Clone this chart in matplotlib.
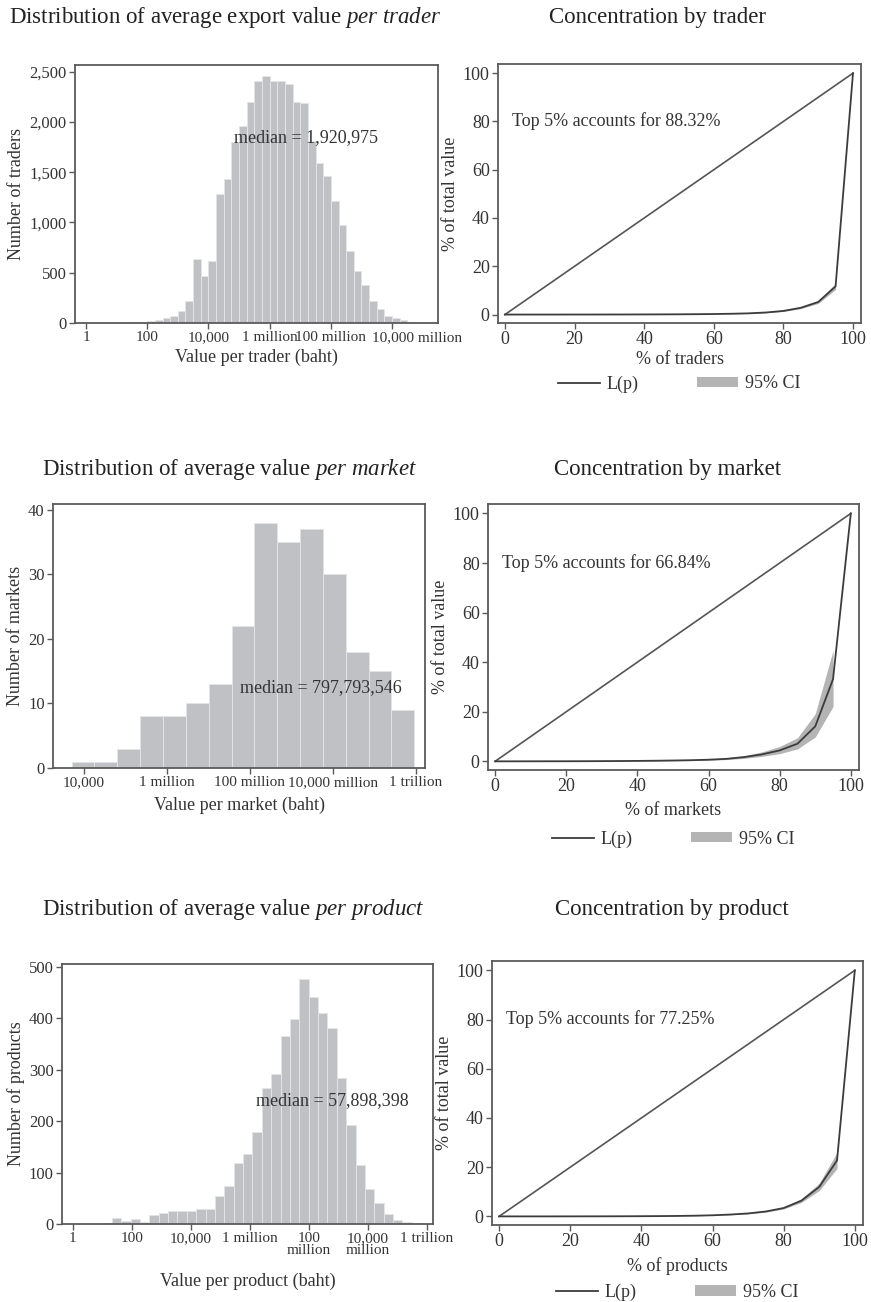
import matplotlib
matplotlib.use("Agg")
from matplotlib import pyplot as plt
from matplotlib.lines import Line2D
from matplotlib.patches import Patch
from matplotlib.ticker import StrMethodFormatter, NullLocator
from matplotlib.transforms import ScaledTranslation
import numpy as np

plt.rcParams["font.family"] = "serif"
plt.rcParams["font.serif"] = ["Liberation Serif"]
plt.rcParams["mathtext.fontset"] = "custom"
plt.rcParams["mathtext.rm"] = "Liberation Serif"
plt.rcParams["mathtext.it"] = "Liberation Serif:italic"

# histogram counts, bins in log10(baht)
trader_counts = [4, 0, 1, 2, 4, 6, 8, 10, 16, 25, 53, 66, 120, 216, 640, 465,
                 618, 1282, 1428, 1804, 1960, 2196, 2409, 2462, 2412, 2412,
                 2375, 2203, 2193, 1810, 1595, 1462, 1216, 973, 721, 515, 382,
                 219, 143, 70, 50, 27, 10, 3, 1, 0]
trader_range = (0.0, 11.5)
trader_median = "1,920,975"

market_counts = [1, 1, 3, 8, 8, 10, 13, 22, 38, 35, 37, 30, 18, 15, 9]
market_range = (3.70, 11.96)
market_median = "797,793,546"

product_counts = [0, 0, 0, 1, 11, 6, 10, 3, 18, 22, 25, 25, 26, 29, 30, 55,
                  74, 118, 136, 179, 264, 292, 365, 399, 477, 441, 410, 382,
                  284, 192, 114, 69, 40, 19, 8, 3, 1, 0]
product_range = (0.06, 12.125)
product_median = "57,898,398"

# lorenz curves at 5% steps
pct = [0, 5, 10, 15, 20, 25, 30, 35, 40, 45, 50, 55, 60, 65, 70, 75, 80, 85, 90, 95, 100]

trader_top5 = 88.32
trader_L = [0, 0, 0, 0, 0.01, 0.01, 0.02, 0.03, 0.05, 0.07, 0.1, 0.15, 0.22, 0.33,
            0.5, 0.85, 1.5, 2.8, 5.2, 100 - trader_top5, 100]
trader_lo = [0, 0, 0, 0, 0.01, 0.01, 0.02, 0.03, 0.04, 0.06, 0.09, 0.13, 0.19, 0.29,
             0.45, 0.75, 1.3, 2.45, 4.6, 10.4, 100]
trader_hi = [0, 0, 0, 0, 0.01, 0.01, 0.02, 0.03, 0.06, 0.08, 0.11, 0.17, 0.25, 0.37,
             0.55, 0.95, 1.7, 3.15, 5.8, 12.9, 100]

market_top5 = 66.84
market_L = [0, 0, 0.01, 0.02, 0.03, 0.05, 0.08, 0.12, 0.17, 0.24, 0.33, 0.45, 0.65,
            1.0, 1.7, 2.8, 4.4, 7.1, 14.1, 100 - market_top5, 100]
market_lo = [0, 0, 0, 0.01, 0.02, 0.03, 0.05, 0.08, 0.11, 0.16, 0.22, 0.3, 0.45,
             0.7, 1.2, 2.0, 3.1, 5.0, 9.8, 22.1, 100]
market_hi = [0, 0.01, 0.02, 0.03, 0.05, 0.08, 0.12, 0.17, 0.24, 0.34, 0.46, 0.62, 0.9,
             1.4, 2.3, 3.8, 6.0, 9.5, 19.2, 44.7, 100]

product_top5 = 77.25
product_L = [0, 0, 0, 0, 0.01, 0.02, 0.03, 0.05, 0.08, 0.12, 0.18, 0.28, 0.45,
             0.75, 1.2, 2.0, 3.4, 6.4, 12.0, 100 - product_top5, 100]
product_lo = [0, 0, 0, 0, 0.01, 0.02, 0.03, 0.04, 0.07, 0.1, 0.15, 0.24, 0.39,
              0.66, 1.05, 1.75, 3.0, 5.7, 10.5, 19.5, 100]
product_hi = [0, 0, 0, 0, 0.01, 0.02, 0.03, 0.06, 0.09, 0.14, 0.21, 0.32, 0.51,
              0.85, 1.35, 2.25, 3.8, 7.2, 13.5, 26.0, 100]

W, H = 871, 1302
TXT = "#333333"
FRAME = "#5a5a5a"
BAR = "#c0c1c4"
CI = "#b4b4b4"
LINE = "#3c3c3c"

fig = plt.figure(figsize=(W / 100, H / 100), dpi=100)


def ax_px(l, t, r, b):
    return fig.add_axes([l / W, 1 - b / H, (r - l) / W, (b - t) / H])


def style(ax, tick_size=12):
    for s in ax.spines.values():
        s.set_color(FRAME)
        s.set_linewidth(1.3)
    ax.tick_params(direction="out", length=4, width=1, color=FRAME,
                   labelcolor=TXT, labelsize=tick_size, pad=2)


def hist(ax, counts, rng, xlim, ylim, yticks, xticks, xlabels, xlabel, ylabel,
         median, mpos, xpad=3):
    edges = 10 ** np.linspace(rng[0], rng[1], len(counts) + 1)
    ax.bar(edges[:-1], counts, width=edges[1:] - edges[:-1], align="edge",
           color=BAR, edgecolor="#e4e4e6", linewidth=0.7)
    ax.set_xscale("log")
    ax.set_xlim(10 ** xlim[0], 10 ** xlim[1])
    ax.set_ylim(*ylim)
    ax.set_xticks(xticks)
    ax.set_xticklabels(xlabels, linespacing=0.9)
    ax.xaxis.set_minor_locator(NullLocator())
    ax.set_yticks(yticks)
    ax.yaxis.set_major_formatter(StrMethodFormatter("{x:,.0f}"))
    style(ax)
    ax.tick_params(axis="x", labelsize=11)
    ax.set_xlabel(xlabel, fontsize=13, color=TXT, labelpad=xpad)
    ax.set_ylabel(ylabel, fontsize=13, color=TXT, labelpad=3)
    ax.text(10 ** mpos[0], mpos[1], "median = " + median, ha="center",
            va="center", fontsize=13, color=TXT)


def lorenz(ax, L, lo, hi, top5, xlabel, xpad=2, legy=-0.235):
    ax.fill_between(pct[:-1], lo[:-1], hi[:-1], color=CI, linewidth=0)
    ax.plot([0, 100], [0, 100], color="#555555", lw=1.2)
    ax.plot(pct, L, color=LINE, lw=1.3)
    ax.set_xlim(-2, 102.3)
    ax.set_ylim(-3.5, 103.8)
    ax.set_xticks([0, 20, 40, 60, 80, 100])
    ax.set_yticks([0, 20, 40, 60, 80, 100])
    style(ax, 13)
    ax.set_xlabel(xlabel, fontsize=13, color=TXT, labelpad=xpad)
    ax.set_ylabel("% of total value", fontsize=13, color=TXT, labelpad=3)
    ax.text(2, 80, "Top 5%% accounts for %.2f%%" % top5, ha="left",
            va="center", fontsize=13, color=TXT)
    handles = [Line2D([], [], color=LINE, lw=1.3), Patch(color=CI, linewidth=0)]
    leg = ax.legend(handles, ["L(p)", "95% CI"], loc="center",
                    bbox_to_anchor=(0.5, legy), ncol=2, frameon=False,
                    fontsize=13, handlelength=2.3, handleheight=0.5,
                    handletextpad=0.4, columnspacing=3.2)
    for t in leg.get_texts():
        t.set_color(TXT)


# row 1: traders
ax = ax_px(75, 65, 438, 323)
hist(ax, trader_counts, trader_range, (-0.36, 11.5), (0, 2567),
     [0, 500, 1000, 1500, 2000, 2500],
     [1, 1e2, 1e4, 1e6, 1e8, 1e10],
     ["1", "100", "10,000", "1 million", "100 million", "10,000 million"],
     "Value per trader (baht)", "Number of traders", trader_median, (7.2, 1847))
# last label sits right of its tick so it clears "100 million"
last = ax.get_xticklabels()[-1]
last.set_ha("left")
last.set_transform(last.get_transform() + ScaledTranslation(-20 / 100, 0, fig.dpi_scale_trans))
ax = ax_px(498, 64, 861, 323)
lorenz(ax, trader_L, trader_lo, trader_hi, trader_top5, "% of traders")

# row 2: markets
ax = ax_px(53, 504, 425, 768)
hist(ax, market_counts, market_range, (3.25, 12.22), (0, 40.9),
     [0, 10, 20, 30, 40],
     [1e4, 1e6, 1e8, 1e10, 1e12],
     ["10,000", "1 million", "100 million", "10,000 million", "1 trillion"],
     "Value per market (baht)", "Number of markets", market_median, (9.7, 12.5),
     xpad=5)
ax = ax_px(488, 504, 859, 770)
lorenz(ax, market_L, market_lo, market_hi, market_top5, "% of markets",
       xpad=5, legy=-0.26)

# row 3: products
ax = ax_px(62, 964, 433, 1224)
hist(ax, product_counts, product_range, (-0.36, 12.21), (0, 506),
     [0, 100, 200, 300, 400, 500],
     [1, 1e2, 1e4, 1e6, 1e8, 1e10, 1e12],
     ["1", "100", "10,000", "1 million", "100\nmillion", "10,000\nmillion", "1 trillion"],
     "Value per product (baht)", "Number of products", product_median, (8.81, 240),
     xpad=11)
ax = ax_px(492, 961, 863, 1225)
lorenz(ax, product_L, product_lo, product_hi, product_top5, "% of products",
       xpad=5, legy=-0.255)

# panel titles
titles = [
    (225, 18, r"Distribution of average export value $\it{per\ trader}$"),
    (657, 18, "Concentration by trader"),
    (230, 470, r"Distribution of average value $\it{per\ market}$"),
    (668, 470, "Concentration by market"),
    (233, 910, r"Distribution of average value $\it{per\ product}$"),
    (672, 910, "Concentration by product"),
]
for x, y, s in titles:
    fig.text(x / W, 1 - y / H, s, ha="center", va="center", fontsize=16.5, color="#222222")

fig.savefig("out.png", dpi=100, facecolor="white")
